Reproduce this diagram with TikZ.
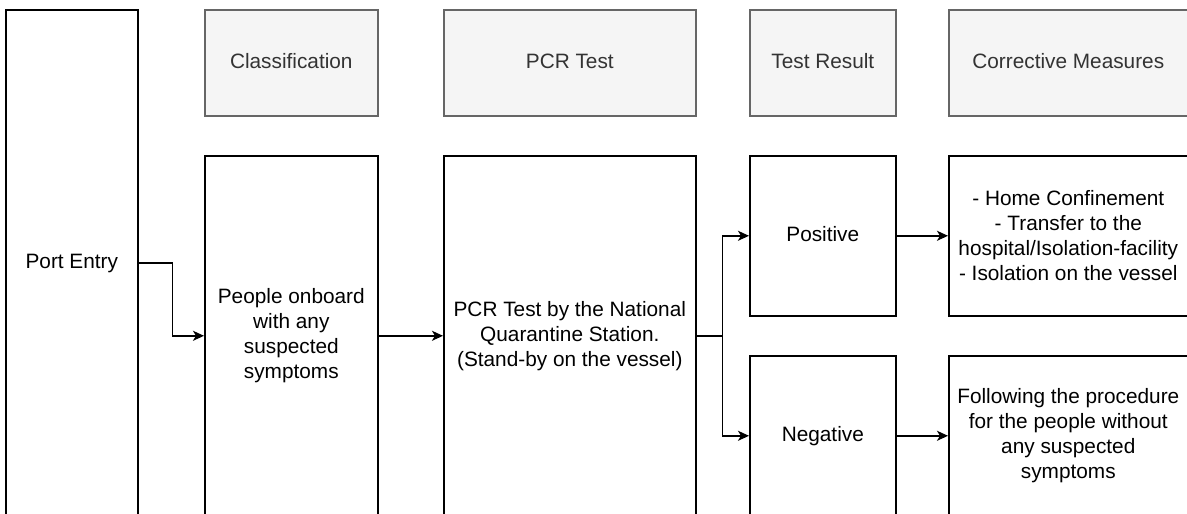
\documentclass[tikz,border=0pt]{standalone}
\usepackage{fontspec}
\setmainfont{Liberation Sans}
\usetikzlibrary{arrows.meta}
\definecolor{hdrfill}{HTML}{F5F5F5}
\definecolor{hdrline}{HTML}{666666}
\definecolor{hdrtext}{HTML}{333333}
\begin{document}
\begin{tikzpicture}[x=1pt,y=-1pt,
    every node/.style={font=\fontsize{20.8}{25}\selectfont},
    oneline/.style={text height=15pt, text depth=4.5pt},
    hdr/.style={draw=hdrline, fill=hdrfill, text=hdrtext, line width=1.6pt,
        anchor=north west, minimum height=106pt, inner sep=0pt, oneline},
    box/.style={draw=black, fill=white, line width=1.6pt, align=center,
        anchor=north west, inner sep=0pt},
    arr/.style={->, >={Stealth[length=11pt,width=10pt,inset=3pt]}, line width=1.6pt}]
    \clip (0,0) rectangle (1187,514);
    \fill[white] (0,0) rectangle (1187,514);
    % headers
    \node[hdr, minimum width=173pt] (hclass) at (204,9) {Classification};
    \node[hdr, minimum width=252pt] (hpcr) at (443,9) {PCR Test};
    \node[hdr, minimum width=146pt] (hres) at (749,9) {Test Result};
    \node[hdr, minimum width=239pt] (hcorr) at (948,9) {Corrective Measures};
    % boxes
    \node[box, oneline, minimum width=132pt, minimum height=506pt] (port) at (5,9) {Port Entry};
    \node[box, minimum width=173pt, minimum height=360pt] (class) at (204,155)
        {People onboard\\with any\\suspected\\symptoms};
    \node[box, minimum width=252pt, minimum height=360pt] (pcr) at (443,155)
        {PCR Test by the National\\Quarantine Station.\\(Stand-by on the vessel)};
    \node[box, oneline, minimum width=146pt, minimum height=160pt] (pos) at (749,155) {Positive};
    \node[box, oneline, minimum width=146pt, minimum height=160pt] (neg) at (749,355) {Negative};
    \node[box, minimum width=239pt, minimum height=160pt] (ctop) at (948,155)
        {- Home Confinement\\- Transfer to the\\hospital/Isolation-facility\\- Isolation on the vessel};
    \node[box, minimum width=239pt, minimum height=160pt] (cbot) at (948,355)
        {Following the procedure\\for the people without\\any suspected\\symptoms};
    % connectors
    \draw[arr] (port.east) -- ++(34,0) |- (class.west);
    \draw[arr] (class.west -| class.east) -- (pcr.west);
    \draw[arr] (pcr.east) -- ++(26,0) |- (pos.west);
    \draw[arr] (pcr.east) -- ++(26,0) |- (neg.west);
    \draw[arr] (pos.east) -- (ctop.west);
    \draw[arr] (neg.east) -- (cbot.west);
\end{tikzpicture}
\end{document}
